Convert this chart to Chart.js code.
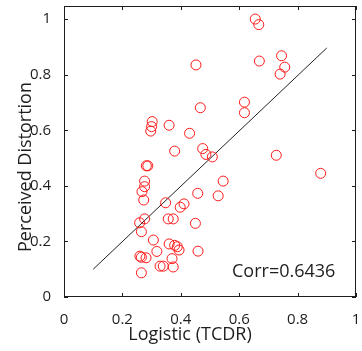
<!DOCTYPE html>
<html>
<head>
<meta charset="utf-8">
<script src="https://cdn.jsdelivr.net/npm/chart.js@4/dist/chart.umd.min.js"></script>
<style>
  html, body { margin: 0; padding: 0; background: #fff; }
  #wrap { width: 362px; height: 351px; position: relative; }
</style>
</head>
<body>
<div id="wrap"><canvas id="c"></canvas></div>
<script>
// ── Data ──
const tcdr = [0.452, 0.467, 0.302, 0.300, 0.297, 0.360, 0.430, 0.379, 0.475, 0.486,
              0.508, 0.655, 0.667, 0.669, 0.745, 0.756, 0.740, 0.618, 0.618, 0.727,
              0.282, 0.287, 0.276, 0.276, 0.267, 0.273, 0.458, 0.348, 0.398, 0.411,
              0.259, 0.276, 0.357, 0.374, 0.450, 0.265, 0.306, 0.360, 0.379, 0.388,
              0.394, 0.318, 0.459, 0.260, 0.265, 0.281, 0.370, 0.329, 0.340, 0.374,
              0.265, 0.879, 0.545, 0.528];
const distortion = [0.835, 0.681, 0.631, 0.613, 0.597, 0.618, 0.589, 0.525, 0.534, 0.513,
              0.504, 1.000, 0.980, 0.849, 0.868, 0.827, 0.802, 0.701, 0.663, 0.510,
              0.472, 0.472, 0.417, 0.397, 0.379, 0.349, 0.373, 0.339, 0.323, 0.335,
              0.267, 0.281, 0.281, 0.281, 0.265, 0.235, 0.205, 0.191, 0.186, 0.181,
              0.169, 0.164, 0.165, 0.147, 0.143, 0.141, 0.138, 0.111, 0.111, 0.108,
              0.087, 0.445, 0.417, 0.364];
const fitX = [0.1, 0.9];
const fitY = [0.1, 0.896];
const xTicks = [0, 0.2, 0.4, 0.6, 0.8, 1];
const yTicks = [0, 0.2, 0.4, 0.6, 0.8, 1];
const corrLabel = 'Corr=0.6436';

const FONT = "'Open Sans', 'DejaVu Sans', sans-serif";
const INK = '#1e1e1e';
const tickFmt = v => String(Number(v.toFixed(1)));

// box + inward ticks on all four sides, labels placed by hand
const frame = {
  id: 'frame',
  afterDraw(chart) {
    const { ctx, chartArea: a, scales: { x, y } } = chart;
    ctx.save();
    ctx.strokeStyle = INK;
    ctx.lineWidth = 1;
    ctx.strokeRect(a.left + 0.5, a.top + 0.5, a.right - a.left - 1, a.bottom - a.top - 1);
    ctx.beginPath();
    for (const v of xTicks) {
      const px = Math.round(x.getPixelForValue(v)) + 0.5;
      ctx.moveTo(px, a.bottom); ctx.lineTo(px, a.bottom - 4);
      ctx.moveTo(px, a.top);    ctx.lineTo(px, a.top + 4);
    }
    for (const v of yTicks) {
      const py = Math.round(y.getPixelForValue(v)) + 0.5;
      ctx.moveTo(a.left, py);  ctx.lineTo(a.left + 4, py);
      ctx.moveTo(a.right, py); ctx.lineTo(a.right - 4, py);
    }
    ctx.stroke();

    ctx.fillStyle = INK;
    ctx.font = `18px ${FONT}`;
    ctx.textBaseline = 'alphabetic';
    ctx.textAlign = 'left';
    ctx.fillText(corrLabel, 232, 277);
    ctx.textAlign = 'center';
    ctx.fillText('Logistic (TCDR)', 190, 340);
    ctx.translate(31, 167);
    ctx.rotate(-Math.PI / 2);
    ctx.fillText('Perceived Distortion', 0, 0);
    ctx.restore();
  }
};

new Chart(document.getElementById('c'), {
  type: 'scatter',
  data: {
    datasets: [
      {
        data: tcdr.map((v, i) => ({ x: v, y: distortion[i] })),
        pointStyle: 'circle', pointRadius: 5, pointHoverRadius: 5,
        borderColor: '#ff1a1a', borderWidth: 1, backgroundColor: 'rgba(0,0,0,0)'
      },
      {
        data: fitX.map((v, i) => ({ x: v, y: fitY[i] })),
        showLine: true, pointRadius: 0, borderColor: '#222', borderWidth: 1
      }
    ]
  },
  options: {
    responsive: true, maintainAspectRatio: false, animation: false,
    layout: { padding: { top: 6, right: 1, left: 0, bottom: 0 } },
    plugins: { legend: { display: false }, tooltip: { enabled: false } },
    scales: {
      x: {
        type: 'linear', min: 0, max: 1,
        grid: { display: false }, border: { display: false },
        afterBuildTicks: s => { s.ticks = xTicks.map(v => ({ value: v })); },
        afterFit: s => { s.height = 54; s.paddingLeft = 0; s.paddingRight = 0; },
        ticks: { color: INK, font: { family: FONT, size: 15 }, padding: 6, maxRotation: 0, callback: tickFmt }
      },
      y: {
        type: 'linear', min: 0, max: 1.047,
        grid: { display: false }, border: { display: false },
        afterBuildTicks: s => { s.ticks = yTicks.map(v => ({ value: v })); },
        afterFit: s => { s.width = 64; s.paddingTop = 0; s.paddingBottom = 0; },
        ticks: { color: INK, font: { family: FONT, size: 15 }, padding: 5, callback: tickFmt }
      }
    }
  },
  plugins: [frame]
});
</script>
</body>
</html>
